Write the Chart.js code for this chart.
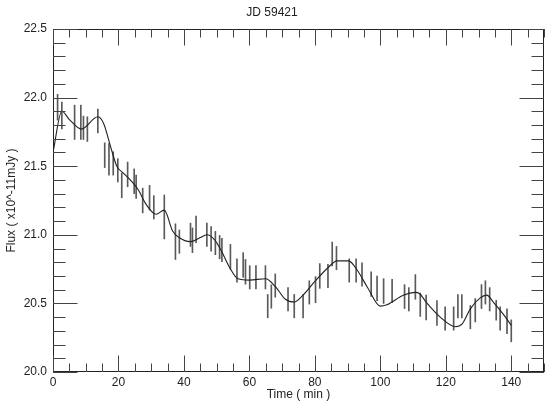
<!DOCTYPE html>
<html>
<head>
<meta charset="utf-8">
<script src="https://cdn.jsdelivr.net/npm/chart.js@4.4.1/dist/chart.umd.min.js"></script>
<style>
html,body{margin:0;padding:0;background:#fff;}
#wrap{width:550px;height:405px;}
</style>
</head>
<body>
<div id="wrap"><canvas id="c" width="550" height="405"></canvas></div>
<script>
const chartTitle = 'JD 59421';
const xTitle = 'Time ( min )';
const yTitle = 'Flux ( x10^-11mJy )';
const xTickLabels = [0, 20, 40, 60, 80, 100, 120, 140];
const yTickLabels = ['20.0', '20.5', '21.0', '21.5', '22.0', '22.5'];

const times = [1.4, 2.7, 6.6, 8.5, 9.3, 10.5, 13.7, 15.8, 17.1, 18.4, 19.8, 21.0, 22.8, 24.8, 25.4, 27.4, 29.5, 30.8, 34.0, 37.4, 38.6, 42.0, 42.6, 43.7, 47.0, 48.3, 49.6, 50.9, 51.6, 54.2, 56.2, 58.1, 58.8, 60.1, 62.0, 64.9, 65.6, 66.7, 67.9, 71.8, 73.7, 76.4, 78.3, 80.2, 81.5, 84.0, 85.3, 86.6, 90.5, 92.6, 94.4, 97.2, 99.0, 101.0, 103.6, 107.4, 108.7, 110.7, 112.2, 114.0, 117.3, 119.8, 122.4, 123.7, 124.9, 127.5, 129.0, 130.9, 132.1, 133.4, 135.4, 136.6, 138.7, 140.0];
const flux = [21.93, 21.87, 21.82, 21.82, 21.78, 21.77, 21.83, 21.58, 21.55, 21.52, 21.47, 21.36, 21.44, 21.39, 21.35, 21.25, 21.27, 21.20, 21.13, 20.95, 20.95, 21.00, 20.96, 21.04, 21.00, 20.97, 20.94, 20.91, 20.89, 20.84, 20.74, 20.78, 20.73, 20.69, 20.69, 20.69, 20.48, 20.55, 20.63, 20.53, 20.48, 20.48, 20.58, 20.60, 20.70, 20.70, 20.86, 20.83, 20.74, 20.74, 20.71, 20.64, 20.61, 20.59, 20.59, 20.55, 20.53, 20.62, 20.49, 20.47, 20.43, 20.39, 20.39, 20.48, 20.48, 20.40, 20.45, 20.55, 20.58, 20.53, 20.45, 20.39, 20.37, 20.30];
const fluxErr = [0.094, 0.098, 0.125, 0.125, 0.085, 0.09, 0.087, 0.09, 0.115, 0.085, 0.085, 0.09, 0.09, 0.09, 0.085, 0.09, 0.09, 0.085, 0.16, 0.13, 0.085, 0.085, 0.09, 0.097, 0.085, 0.09, 0.085, 0.085, 0.085, 0.09, 0.085, 0.09, 0.09, 0.085, 0.085, 0.085, 0.085, 0.085, 0.085, 0.085, 0.085, 0.085, 0.085, 0.095, 0.09, 0.085, 0.087, 0.085, 0.085, 0.085, 0.085, 0.09, 0.09, 0.09, 0.085, 0.087, 0.085, 0.09, 0.085, 0.09, 0.09, 0.085, 0.085, 0.085, 0.085, 0.085, 0.085, 0.087, 0.085, 0.085, 0.072, 0.085, 0.09, 0.08];

const modelTimes = [0, 2.7, 5, 8.7, 13.7, 15.5, 17.5, 19.5, 21.5, 24, 26, 28.5, 31.5, 34, 36.5, 38.5, 42, 45, 47, 49.5, 51.5, 54, 56.5, 60, 65, 68, 71, 73.7, 76.4, 80, 84, 86.8, 90.3, 93, 96, 100, 102, 107, 110.7, 112, 114.3, 118.3, 122.9, 125, 127.5, 130.5, 132.5, 134.5, 137.6, 140];
const modelFlux = [21.60, 21.90, 21.84, 21.77, 21.86, 21.81, 21.65, 21.50, 21.45, 21.39, 21.33, 21.22, 21.15, 21.18, 21.03, 20.98, 20.95, 20.98, 21.00, 20.96, 20.88, 20.76, 20.68, 20.67, 20.68, 20.62, 20.53, 20.51, 20.56, 20.66, 20.76, 20.81, 20.81, 20.74, 20.62, 20.48, 20.49, 20.56, 20.58, 20.57, 20.50, 20.40, 20.33, 20.35, 20.46, 20.54, 20.56, 20.51, 20.42, 20.34];

const FONT = "'Liberation Sans', Arial, sans-serif";

const frameTicks = {
  id: 'frameTicks',
  afterDatasetsDraw(chart) {
    const ctx = chart.ctx, a = chart.chartArea;
    const xs = chart.scales.x, ys = chart.scales.y;
    ctx.save();
    ctx.strokeStyle = '#222';
    ctx.lineWidth = 1;
    ctx.strokeRect(Math.round(a.left) + 0.5, Math.round(a.top) + 0.5, Math.round(a.right - a.left) - 1, Math.round(a.bottom - a.top) - 1);
    ctx.strokeStyle = '#444';
    ctx.beginPath();
    for (let v = 0; v <= 150; v += 5) {
      const px = Math.round(xs.getPixelForValue(v)) + 0.5;
      const len = (v % 20 === 0) ? 16.5 : 8.5;
      ctx.moveTo(px, a.bottom); ctx.lineTo(px, a.bottom - len);
      ctx.moveTo(px, a.top); ctx.lineTo(px, a.top + len);
    }
    for (let i = 0; i <= 25; i++) {
      const v = 20 + i * 0.1;
      const py = Math.round(ys.getPixelForValue(v)) + 0.5;
      const len = (i % 5 === 0) ? 24.5 : 12.5;
      ctx.moveTo(a.left, py); ctx.lineTo(a.left + len, py);
      ctx.moveTo(a.right, py); ctx.lineTo(a.right - len, py);
    }
    ctx.stroke();
    ctx.restore();
  }
};

new Chart(document.getElementById('c'), {
  type: 'line',
  data: {
    datasets: [
      {
        type: 'bar',
        label: 'data',
        data: times.map((t, i) => ({ x: t, y: [flux[i] - fluxErr[i], flux[i] + fluxErr[i]] })),
        backgroundColor: '#5a5a5a',
        borderWidth: 0,
        barThickness: 1,
        order: 2
      },
      {
        type: 'line',
        label: 'model',
        data: modelTimes.map((t, i) => ({ x: t, y: modelFlux[i] })),
        borderColor: '#222',
        borderWidth: 1.1,
        pointRadius: 0,
        fill: false,
        cubicInterpolationMode: 'monotone',
        order: 1
      }
    ]
  },
  options: {
    responsive: false,
    animation: false,
    devicePixelRatio: 1,
    layout: { padding: { left: 0, right: 6, top: 0, bottom: 0 } },
    plugins: {
      legend: { display: false },
      tooltip: { enabled: false },
      title: {
        display: true,
        text: chartTitle,
        color: '#222',
        font: { family: FONT, size: 12, weight: 'normal' },
        padding: { top: 5, bottom: 9.6 }
      }
    },
    scales: {
      x: {
        type: 'linear',
        min: 0, max: 150,
        offset: false,
        grid: { display: false, drawTicks: false },
        border: { display: false },
        afterBuildTicks: (s) => { s.ticks = xTickLabels.map(v => ({ value: v })); },
        ticks: {
          padding: 3,
          color: '#222',
          font: { family: FONT, size: 12 },
          maxRotation: 0,
          autoSkip: false,
          callback: (v) => String(v)
        },
        title: {
          display: true,
          text: xTitle,
          color: '#222',
          font: { family: FONT, size: 12 },
          padding: { top: 0, bottom: 3 }
        },
        afterFit: (s) => { s.height = 33; }
      },
      y: {
        type: 'linear',
        min: 20, max: 22.5,
        grid: { display: false, drawTicks: false },
        border: { display: false },
        afterBuildTicks: (s) => { s.ticks = yTickLabels.map(v => ({ value: Number(v) })); },
        ticks: {
          padding: 6,
          color: '#222',
          font: { family: FONT, size: 12 },
          autoSkip: false,
          callback: (v) => Number(v).toFixed(1)
        },
        title: {
          display: true,
          text: yTitle,
          color: '#222',
          font: { family: FONT, size: 12 },
          padding: { top: 4, bottom: 0 }
        },
        afterFit: (s) => { s.width = 53; }
      }
    }
  },
  plugins: [frameTicks]
});
</script>
</body>
</html>
